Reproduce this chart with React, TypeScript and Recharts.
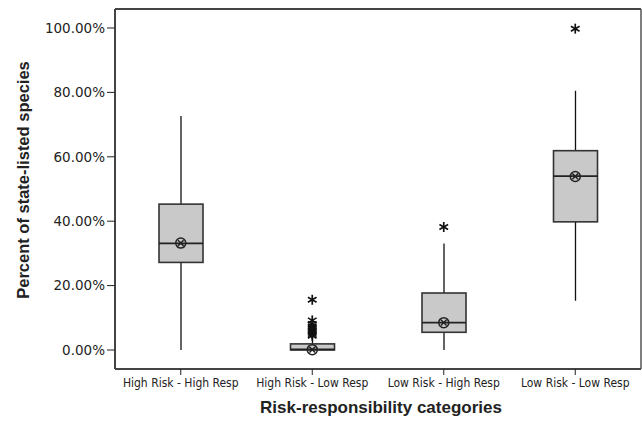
import React from "react"
import {
  ComposedChart,
  Bar,
  Scatter,
  XAxis,
  YAxis,
} from "recharts"

const categories = [
  "High Risk - High Resp",
  "High Risk - Low Resp",
  "Low Risk - High Resp",
  "Low Risk - Low Resp",
]
const whiskerLow = [0, 0, 0, 15.3]
const q1 = [27.2, 0, 5.5, 39.8]
const median = [33.1, 0.2, 8.5, 54.0]
const q3 = [45.3, 1.9, 17.7, 61.9]
const whiskerHigh = [72.7, 3.9, 33.1, 80.5]
const means = [33.2, 0.1, 8.5, 53.9]

// extreme values (asterisks): category index + value
const outlierCat = [1, 1, 1, 1, 1, 1, 1, 1, 1, 2, 3]
const outlierVal = [4.4, 5.0, 5.6, 6.2, 6.8, 7.4, 8.1, 9.2, 15.6, 38.2, 99.8]

const yTicks = [0, 20, 40, 60, 80, 100]
const xTicks = [1, 2, 3, 4]

const boxes = categories.map((cat, i) => ({
  x: i + 1,
  cat,
  lo: whiskerLow[i],
  q1: q1[i],
  med: median[i],
  q3: q3[i],
  hi: whiskerHigh[i],
}))
const meanPts = categories.map((_, i) => ({ x: i + 1, v: means[i] }))
const outlierPts = outlierVal.map((v, i) => ({ x: outlierCat[i] + 1, v }))

const FONT = "'DejaVu Sans', Verdana, sans-serif"
const COND = "'DejaVu Sans Condensed', 'DejaVu Sans', sans-serif"
const BOLD = "'Liberation Sans', Arial, sans-serif"

function BoxShape(props: any) {
  const { x, y, width, height, payload } = props
  const top = Math.min(y, y + height)
  const h = Math.abs(height)
  const span = payload.hi - payload.lo
  const py = (v: number) => top + ((payload.hi - v) / span) * h
  const cx = x + width / 2
  return (
    <g>
      <line x1={cx} x2={cx} y1={top} y2={top + h} stroke="#111" strokeWidth={1.3} />
      <rect
        x={x}
        y={py(payload.q3)}
        width={width}
        height={py(payload.q1) - py(payload.q3)}
        fill="#c9c9c9"
        stroke="#333"
        strokeWidth={1.6}
      />
      <line
        x1={x}
        x2={x + width}
        y1={py(payload.med)}
        y2={py(payload.med)}
        stroke="#222"
        strokeWidth={1.6}
      />
    </g>
  )
}

function MeanShape(props: any) {
  const { cx, cy } = props
  const d = 2.8
  return (
    <g stroke="#222" strokeWidth={1.5} fill="none">
      <circle cx={cx} cy={cy} r={5} />
      <line x1={cx - d} y1={cy - d} x2={cx + d} y2={cy + d} />
      <line x1={cx - d} y1={cy + d} x2={cx + d} y2={cy - d} />
    </g>
  )
}

function StarShape(props: any) {
  const { cx, cy } = props
  const r = 5
  const lines = [90, 30, 150].map((a) => {
    const rad = (a * Math.PI) / 180
    const dx = Math.cos(rad) * r
    const dy = Math.sin(rad) * r
    return <line key={a} x1={cx - dx} y1={cy - dy} x2={cx + dx} y2={cy + dy} />
  })
  return (
    <g stroke="#111" strokeWidth={1.7}>
      {lines}
    </g>
  )
}

function XTitle(props: any) {
  const vb = props.viewBox || { x: 115, y: 369, width: 526, height: 52 }
  return (
    <text
      x={vb.x + vb.width / 2 + 3}
      y={vb.y + 44}
      textAnchor="middle"
      fontFamily={BOLD}
      fontWeight="bold"
      fontSize={17}
      fill="#222"
    >
      Risk-responsibility categories
    </text>
  )
}

function YTitle(props: any) {
  const vb = props.viewBox || { x: 0, y: 9, width: 115, height: 360 }
  const cx = vb.x + 29
  const cy = vb.y + vb.height / 2 - 9
  return (
    <text
      x={cx}
      y={cy}
      transform={`rotate(-90, ${cx}, ${cy})`}
      textAnchor="middle"
      fontFamily={BOLD}
      fontWeight="bold"
      fontSize={16.5}
      fill="#222"
    >
      Percent of state-listed species
    </text>
  )
}

export default function App() {
  return (
    <div style={{ position: "absolute", left: 0, top: 0, background: "#fff" }}>
      <ComposedChart
        width={642}
        height={421}
        data={boxes}
        margin={{ top: 8, right: 0, bottom: 0, left: 0 }}
      >
        <XAxis
          dataKey="x"
          type="number"
          domain={[0.5, 4.5]}
          ticks={xTicks}
          height={52}
          tickSize={6}
          tickMargin={3}
          axisLine={{ stroke: "#444", strokeWidth: 2 }}
          tickLine={{ stroke: "#222" }}
          tick={{ fontSize: 12, fill: "#222", fontFamily: COND }}
          tickFormatter={(v) => categories[Number(v) - 1] ?? ""}
          interval={0}
          label={{ content: XTitle }}
        />
        <XAxis
          xAxisId="top"
          dataKey="x"
          type="number"
          domain={[0.5, 4.5]}
          ticks={xTicks}
          orientation="top"
          height={1}
          tick={false}
          tickLine={false}
          axisLine={{ stroke: "#444", strokeWidth: 2 }}
        />
        <YAxis
          type="number"
          domain={[-5.9, 105.9]}
          ticks={yTicks}
          width={115}
          tickSize={8}
          tickMargin={2}
          tickFormatter={(v) => `${Number(v).toFixed(2)}%`}
          axisLine={{ stroke: "#444", strokeWidth: 2 }}
          tickLine={{ stroke: "#222" }}
          tick={{ fontSize: 13.5, fill: "#222", fontFamily: FONT }}
          allowDataOverflow
          label={{ content: YTitle }}
        />
        <YAxis
          yAxisId="right"
          orientation="right"
          type="number"
          domain={[-5.9, 105.9]}
          ticks={yTicks}
          width={1}
          tick={false}
          tickLine={false}
          axisLine={{ stroke: "#555", strokeWidth: 1.5 }}
        />
        <Bar
          dataKey={(d: any) => [d.lo, d.hi]}
          barSize={44}
          shape={BoxShape}
          isAnimationActive={false}
        />
        <Scatter
          data={meanPts}
          dataKey="v"
          shape={MeanShape}
          isAnimationActive={false}
        />
        <Scatter
          data={outlierPts}
          dataKey="v"
          shape={StarShape}
          isAnimationActive={false}
        />
      </ComposedChart>
    </div>
  )
}
